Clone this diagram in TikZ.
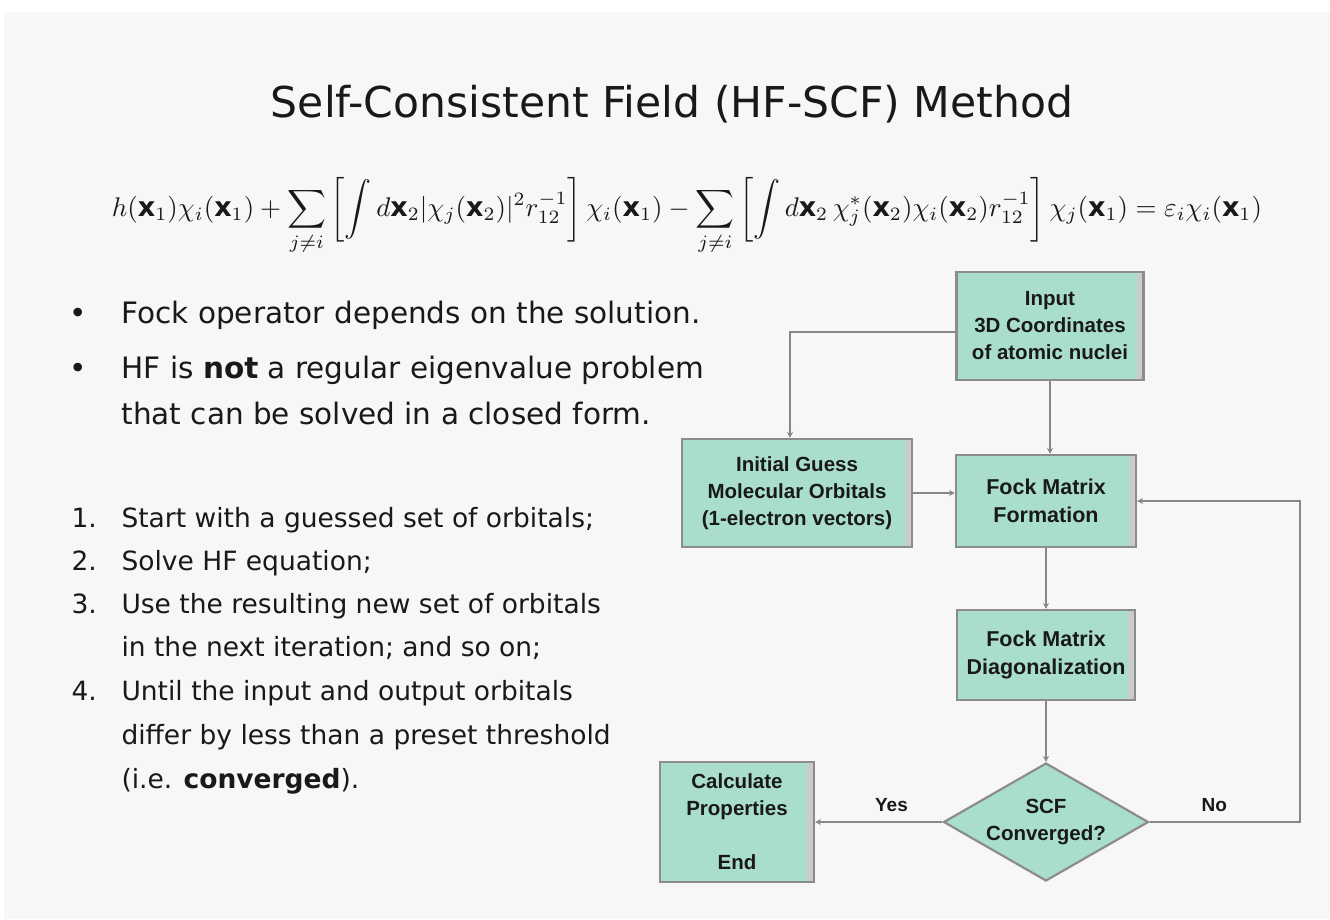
\documentclass[tikz,border=0pt]{standalone}
\usepackage{fontspec}
\setmainfont{DejaVu Sans}
\newfontfamily\boxfont{Liberation Sans}
\usepackage{amsmath}
\usetikzlibrary{shapes.geometric,arrows.meta}
\definecolor{slidebg}{RGB}{247,247,247}
\definecolor{boxfill}{RGB}{170,222,204}
\definecolor{boxedge}{RGB}{140,140,140}
\definecolor{boxside}{RGB}{200,204,202}
\definecolor{connline}{RGB}{135,135,135}
\definecolor{ink}{RGB}{25,25,25}
\begin{document}
\begin{tikzpicture}[x=1pt,y=-1pt,
  box/.style={draw=boxedge, line width=2.2pt, fill=boxfill, align=center, inner sep=0pt,
    font=\boxfont\bfseries\fontsize{20.5}{27}\selectfont, text=ink,
    path picture={\fill[boxside] ([xshift=-7pt]path picture bounding box.north east) rectangle (path picture bounding box.south east);}},
  decision/.style={diamond, draw=boxedge, line width=2.2pt, fill=boxfill, align=center, inner sep=0pt,
    aspect=1.74, font=\boxfont\bfseries\fontsize{20.5}{28}\selectfont, text=ink},
  conn/.style={draw=connline, line width=2.2pt, -{Stealth[length=6pt,width=6pt]}},
  lbl/.style={font=\boxfont\bfseries\fontsize{19}{22}\selectfont, text=ink},
  bul/.style={anchor=base west, font=\fontsize{29.5}{35}\selectfont, text=ink},
  num/.style={anchor=base west, font=\fontsize{26.5}{32}\selectfont, text=ink}]
\useasboundingbox (0,0) rectangle (1330,919);
\fill[white] (0,0) rectangle (1330,919);
\fill[slidebg] (4,12) rectangle (1330,919);

% title
\node[anchor=base, font=\fontsize{42.5}{48}\selectfont, text=ink] (title) at (672,117) {Self-Consistent Field (HF-SCF) Method};

% equation
\node[text=ink] (eq) at (687,216) {\resizebox{1150pt}{!}{$\displaystyle
 h(\mathbf{x}_1)\chi_i(\mathbf{x}_1)+\sum_{j\neq i}\left[\int d\mathbf{x}_2|\chi_j(\mathbf{x}_2)|^2 r_{12}^{-1}\right]\chi_i(\mathbf{x}_1)
 -\sum_{j\neq i}\left[\int d\mathbf{x}_2\,\chi_j^{*}(\mathbf{x}_2)\chi_i(\mathbf{x}_2)r_{12}^{-1}\right]\chi_j(\mathbf{x}_1)=\varepsilon_i\chi_i(\mathbf{x}_1)$}};

% bullets
\node[bul] (b1dot) at (66,323) {•};
\node[bul] (b1) at (118,323) {Fock operator depends on the solution.};
\node[bul] (b2dot) at (66,378) {•};
\node[bul] (b2) at (118,378) {HF is \textbf{not} a regular eigenvalue problem};
\node[bul] (b3) at (118,424) {that can be solved in a closed form.};

% numbered list
\node[num] (n1) at (68,527) {1.};
\node[num] (t1) at (118,527) {Start with a guessed set of orbitals;};
\node[num] (n2) at (68,570) {2.};
\node[num] (t2) at (118,570) {Solve HF equation;};
\node[num] (n3) at (68,613) {3.};
\node[num] (t3) at (118,613) {Use the resulting new set of orbitals};
\node[num] (t3b) at (118,656) {in the next iteration; and so on;};
\node[num] (n4) at (68,700) {4.};
\node[num] (t4) at (118,700) {Until the input and output orbitals};
\node[num] (t4b) at (118,744) {differ by less than a preset threshold};
\node[num] (t4c) at (118,788) {(i.e. \textbf{converged}).};

% flowchart
\node[box, minimum width=187pt, minimum height=108pt] (inp) at (1050,326) {Input\\3D Coordinates\\of atomic nuclei};
\node[box, minimum width=180pt, minimum height=92pt, font=\boxfont\bfseries\fontsize{21.5}{28}\selectfont] (fock) at (1046,501) {Fock Matrix\\Formation};
\node[box, minimum width=230pt, minimum height=108pt] (guess) at (797,493) {Initial Guess\\Molecular Orbitals\\(1-electron vectors)};
\node[box, minimum width=178pt, minimum height=90pt, font=\boxfont\bfseries\fontsize{21.5}{28}\selectfont] (diag) at (1046,655) {Fock Matrix\\Diagonalization};
\node[decision, minimum width=205pt, minimum height=118pt] (scf) at (1046,822) {SCF\\Converged?};
\node[box, minimum width=154pt, minimum height=120pt] (calc) at (737,822) {Calculate\\Properties\\[27pt]End};

\coordinate (nocorner) at (1300,822);
\coordinate (gtop) at ([xshift=-7pt]guess.north);
\draw[conn] (inp.south) -- (inp.south |- fock.north);
\draw[conn] ([yshift=-6pt]inp.west) -| (gtop);
\draw[conn] (guess.east) -- (guess.east -| fock.west);
\draw[conn] (fock.south) -- (diag.north);
\draw[conn] (diag.south) -- (scf.north);
\draw[conn] (scf.west) -- node[lbl, above=6pt, pos=0.4] {Yes} (calc.east);
\draw[conn] (scf.east) -- node[lbl, above=6pt, pos=0.43] {No} (nocorner) |- (fock.east);
\end{tikzpicture}
\end{document}
